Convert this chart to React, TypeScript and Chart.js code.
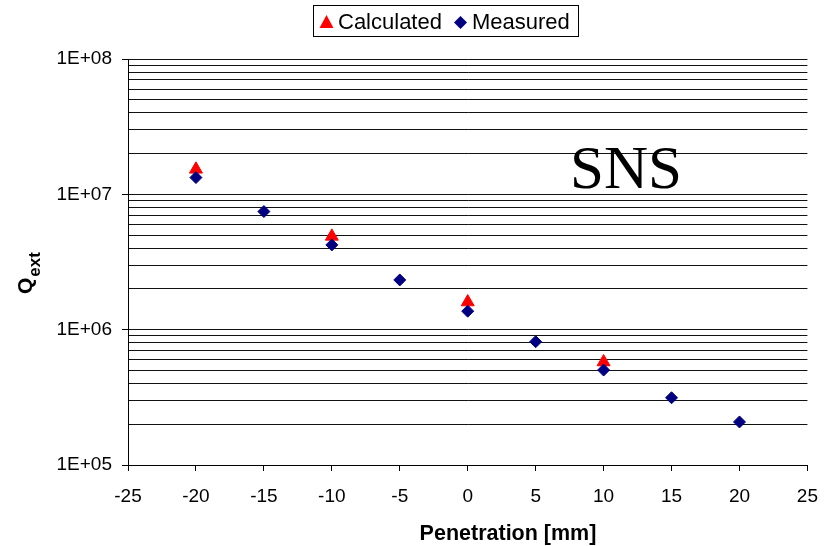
import React, { useEffect, useRef } from "react";
import { Chart, registerables } from "chart.js";

Chart.register(...registerables);

const calcX = [-20, -10, 0, 10];
const calcY = [1.53e7, 4.89e6, 1.6e6, 5.77e5];
const measX = [-20, -15, -10, -5, 0, 5, 10, 15, 20];
const measY = [1.33e7, 7.46e6, 4.23e6, 2.33e6, 1.37e6, 8.15e5, 5.03e5, 3.14e5, 2.08e5];
const yTickValues = [
  1e5, 2e5, 3e5, 4e5, 5e5, 6e5, 7e5, 8e5, 9e5,
  1e6, 2e6, 3e6, 4e6, 5e6, 6e6, 7e6, 8e6, 9e6,
  1e7, 2e7, 3e7, 4e7, 5e7, 6e7, 7e7, 8e7, 9e7,
  1e8,
];
const xTitle = "Penetration [mm]";
const annotation = "SNS";
const legendLabels = ["Calculated", "Measured"];

const SANS = "'Liberation Sans', Arial, sans-serif";
const RED = "#ff0000";
const NAVY = "#000080";

const isMajor = (v: number) => Math.abs(Math.log10(v) - Math.round(Math.log10(v))) < 1e-9;

const overlayPlugin = {
  id: "overlay",
  afterDraw(chart: any) {
    const ctx = chart.ctx as CanvasRenderingContext2D;
    ctx.save();
    // legend box
    ctx.fillStyle = "#fff";
    ctx.fillRect(313, 5, 265, 31);
    ctx.strokeStyle = "#000";
    ctx.lineWidth = 1;
    ctx.strokeRect(313.5, 5.5, 265, 31);
    // triangle marker
    ctx.fillStyle = RED;
    ctx.beginPath();
    ctx.moveTo(326.5, 15);
    ctx.lineTo(333.5, 28);
    ctx.lineTo(319.5, 28);
    ctx.closePath();
    ctx.fill();
    // diamond marker
    ctx.fillStyle = NAVY;
    ctx.beginPath();
    ctx.moveTo(460.5, 16);
    ctx.lineTo(467, 22.5);
    ctx.lineTo(460.5, 29);
    ctx.lineTo(454, 22.5);
    ctx.closePath();
    ctx.fill();
    ctx.fillStyle = "#000";
    ctx.font = `22px ${SANS}`;
    ctx.textBaseline = "alphabetic";
    ctx.textAlign = "left";
    ctx.fillText(legendLabels[0], 338, 29);
    ctx.fillText(legendLabels[1], 472, 29);

    // SNS annotation
    ctx.font = `61px 'Liberation Serif', 'Times New Roman', serif`;
    ctx.fillText(annotation, 570, 188);

    // x axis title
    ctx.font = `bold 21.5px ${SANS}`;
    ctx.textAlign = "center";
    ctx.fillText(xTitle, 508, 540);

    // y axis title Q_ext
    ctx.translate(32, 294);
    ctx.rotate(-Math.PI / 2);
    ctx.textAlign = "left";
    ctx.font = `bold 21px ${SANS}`;
    ctx.fillText("Q", 0, 0);
    const qw = ctx.measureText("Q").width;
    ctx.font = `bold 17px ${SANS}`;
    ctx.fillText("ext", qw + 1, 8);
    ctx.restore();
  },
};

export default function App() {
  const ref = useRef<HTMLCanvasElement>(null);
  useEffect(() => {
    if (!ref.current) return;
    const chart = new Chart(ref.current, {
      type: "scatter",
      data: {
        datasets: [
          {
            label: legendLabels[0],
            data: calcX.map((x, i) => ({ x, y: calcY[i] })),
            pointStyle: "triangle",
            pointRadius: 7.5,
            backgroundColor: RED,
            borderColor: RED,
            borderWidth: 1,
            order: 2,
          },
          {
            label: legendLabels[1],
            data: measX.map((x, i) => ({ x, y: measY[i] })),
            pointStyle: "rectRot",
            pointRadius: 6,
            backgroundColor: NAVY,
            borderColor: NAVY,
            borderWidth: 1,
            order: 1,
          },
        ],
      },
      options: {
        responsive: false,
        animation: false,
        devicePixelRatio: 1,
        layout: { padding: { left: 0, top: 59, right: 24, bottom: 0 } },
        plugins: { legend: { display: false }, tooltip: { enabled: false } },
        scales: {
          x: {
            type: "linear",
            min: -25,
            max: 25,
            afterFit: (s: any) => {
              s.height = 81;
            },
            ticks: {
              stepSize: 5,
              color: "#000",
              font: { family: SANS, size: 19 },
              padding: 14,
              maxRotation: 0,
            },
            grid: {
              drawOnChartArea: false,
              drawTicks: true,
              tickLength: 6,
              tickColor: "#000",
              color: "#000",
            },
            border: { display: true, color: "#000", width: 1 },
          },
          y: {
            type: "logarithmic",
            min: 1e5,
            max: 1e8,
            afterFit: (s: any) => {
              s.width = 128;
            },
            afterBuildTicks: (s: any) => {
              s.ticks = yTickValues.map((v) => ({ value: v, major: isMajor(v) }));
            },
            ticks: {
              autoSkip: false,
              color: "#000",
              font: { family: SANS, size: 19 },
              padding: 10,
              callback: (v: any) => {
                const n = Number(v);
                if (!isMajor(n)) return "";
                const e = Math.round(Math.log10(n));
                return "1E+" + String(e).padStart(2, "0");
              },
            },
            grid: {
              color: "#111",
              lineWidth: 1,
              drawTicks: true,
              tickLength: 6,
              tickColor: (c: any) => (c.tick && isMajor(c.tick.value) ? "#000" : "rgba(0,0,0,0)"),
            },
            border: { display: true, color: "#000", width: 1 },
          },
        },
      },
      plugins: [overlayPlugin],
    });
    return () => chart.destroy();
  }, []);
  return (
    <div style={{ position: "absolute", left: 0, top: 0, width: 832, height: 546, background: "#fff" }}>
      <canvas ref={ref} width={832} height={546} />
    </div>
  );
}
